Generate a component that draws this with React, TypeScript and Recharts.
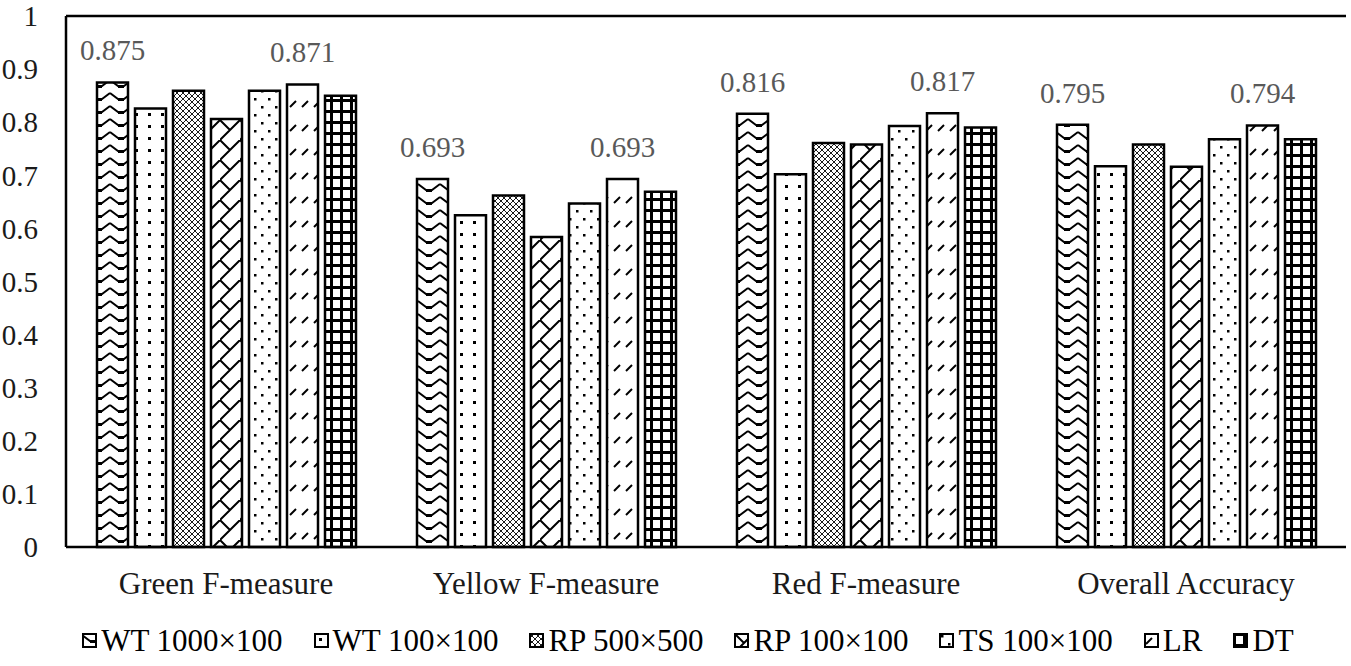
import React from 'react';
import { BarChart, Bar, XAxis, YAxis, CartesianGrid, LabelList, Legend, ReferenceLine } from 'recharts';

const categories = ['Green F-measure', 'Yellow F-measure', 'Red F-measure', 'Overall Accuracy'];
const seriesNames = ['WT 1000×100', 'WT 100×100', 'RP 500×500', 'RP 100×100', 'TS 100×100', 'LR', 'DT'];
const wt1000 = [0.875, 0.693, 0.816, 0.795];
const wt100 = [0.826, 0.625, 0.702, 0.717];
const rp500 = [0.859, 0.662, 0.761, 0.758];
const rp100 = [0.806, 0.584, 0.758, 0.716];
const ts100 = [0.859, 0.647, 0.793, 0.768];
const lr = [0.871, 0.693, 0.817, 0.794];
const dt = [0.850, 0.669, 0.790, 0.768];
const yTicks = [0, 0.1, 0.2, 0.3, 0.4, 0.5, 0.6, 0.7, 0.8, 0.9, 1];

const seriesValues = [wt1000, wt100, rp500, rp100, ts100, lr, dt];
const keys = ['s0', 's1', 's2', 's3', 's4', 's5', 's6'];
const labelled = [true, false, false, false, false, true, false];

const data = categories.map((c, i) => {
  const row: Record<string, string | number> = { name: c };
  keys.forEach((k, j) => {
    row[k] = seriesValues[j][i];
  });
  return row;
});

const FONT = '"Liberation Serif", "Times New Roman", serif';

const Patterns = () => (
  <svg width={0} height={0} style={{ position: 'absolute', left: 0, top: 0 }}>
    <defs>
      <pattern id="p0" width={22} height={13} patternUnits="userSpaceOnUse">
        <rect width={22} height={13} fill="#fff" />
        <path d="M0,2 L8,8 L14,8 L22,2" fill="none" stroke="#000" strokeWidth={2} />
        <path d="M8,8.5 L14,8.5" stroke="#000" strokeWidth={3} />
      </pattern>
      <pattern id="p1" width={13} height={12} patternUnits="userSpaceOnUse">
        <rect width={13} height={12} fill="#fff" />
        <rect x={5} y={5} width={3} height={3} fill="#000" />
      </pattern>
      <pattern id="p2" width={6} height={6} patternUnits="userSpaceOnUse">
        <rect width={6} height={6} fill="#fff" />
        <path d="M0,0 L6,6 M6,0 L0,6" stroke="#000" strokeWidth={0.9} />
      </pattern>
      <pattern id="p3" width={20} height={20} patternUnits="userSpaceOnUse">
        <rect width={20} height={20} fill="#fff" />
        <path d="M-1,21 L21,-1 M0,0 L10,10" fill="none" stroke="#000" strokeWidth={2} />
      </pattern>
      <pattern id="p4" width={14} height={16} patternUnits="userSpaceOnUse">
        <rect width={14} height={16} fill="#fff" />
        <rect x={2} y={2} width={2.5} height={2.5} fill="#000" />
        <rect x={9} y={10} width={2.5} height={2.5} fill="#000" />
      </pattern>
      <pattern id="p5" width={12} height={24} patternUnits="userSpaceOnUse">
        <rect width={12} height={24} fill="#fff" />
        <path d="M2,11 L8,5" stroke="#000" strokeWidth={2} />
      </pattern>
      <pattern id="p6" width={10} height={11} patternUnits="userSpaceOnUse">
        <rect width={10} height={11} fill="#fff" />
        <path d="M1.5,0 L1.5,11 M0,1.5 L10,1.5" stroke="#000" strokeWidth={3} />
      </pattern>
    </defs>
  </svg>
);

const LegendContent = () => (
  <div
    style={{
      display: 'flex',
      justifyContent: 'center',
      alignItems: 'center',
      paddingTop: 26,
      paddingLeft: 22,
      height: 35,
      fontFamily: FONT,
      fontSize: 31,
      color: '#000',
      whiteSpace: 'nowrap',
    }}
  >
    {seriesNames.map((n, i) => (
      <div key={n} style={{ display: 'flex', alignItems: 'center', marginRight: i < seriesNames.length - 1 ? 31 : 0 }}>
        <svg width={15} height={15} style={{ marginRight: 4 }}>
          <rect x={1} y={1} width={13} height={13} fill={`url(#p${i})`} stroke="#000" strokeWidth={2} />
        </svg>
        <span>{n}</span>
      </div>
    ))}
  </div>
);

export default function App() {
  return (
    <div style={{ position: 'absolute', left: 0, top: 0, width: 1351, height: 666, background: '#fff' }}>
      <Patterns />
      <BarChart
        width={1351}
        height={666}
        data={data}
        margin={{ top: 16, right: 5, left: 8, bottom: 8 }}
        barCategoryGap={31}
        barGap={7}
      >
        <CartesianGrid vertical={false} stroke="#d9d9d9" strokeWidth={2} />
        <XAxis
          dataKey="name"
          height={50}
          tickLine={false}
          tickSize={0}
          tickMargin={25}
          axisLine={{ stroke: '#000', strokeWidth: 2.5 }}
          tick={{ fill: '#1a1a1a', fontSize: 31, fontFamily: FONT }}
        />
        <YAxis
          yAxisId="left"
          width={58}
          domain={[0, 1]}
          ticks={yTicks}
          interval={0}
          tickLine={false}
          tickSize={0}
          tickMargin={28}
          axisLine={{ stroke: '#000', strokeWidth: 2.5 }}
          tick={{ fill: '#1a1a1a', fontSize: 29, fontFamily: FONT }}
        />
        <YAxis
          yAxisId="right"
          orientation="right"
          width={0}
          domain={[0, 1]}
          tick={false}
          tickLine={false}
          axisLine={{ stroke: '#000', strokeWidth: 2.5 }}
        />
        <ReferenceLine yAxisId="left" y={1} stroke="#000" strokeWidth={2.5} />
        <Legend verticalAlign="bottom" height={61} content={<LegendContent />} />
        {keys.map((k, i) => (
          <Bar
            key={k}
            yAxisId="left"
            dataKey={k}
            name={seriesNames[i]}
            fill={`url(#p${i})`}
            stroke="#000"
            strokeWidth={2.5}
            isAnimationActive={false}
          >
            {labelled[i] && (
              <LabelList
                dataKey={k}
                position="top"
                offset={22}
                fill="#595959"
                fontSize={29}
                fontFamily={FONT}
                formatter={(v: number) => v.toFixed(3)}
              />
            )}
          </Bar>
        ))}
      </BarChart>
    </div>
  );
}
